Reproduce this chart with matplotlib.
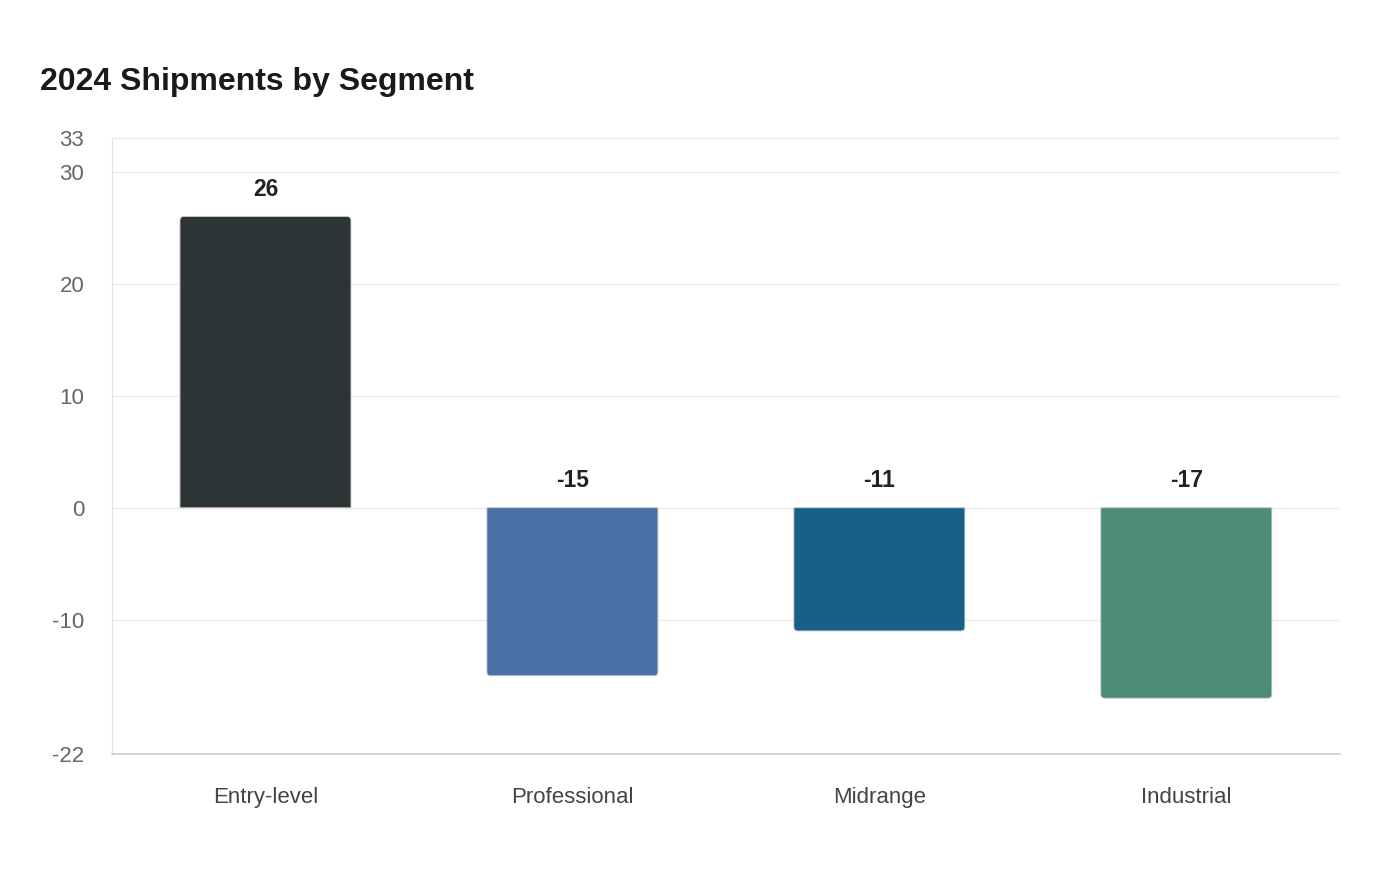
import matplotlib.pyplot as plt
from matplotlib.path import Path
from matplotlib.patches import PathPatch

plt.rcParams['font.family'] = ['Liberation Sans', 'DejaVu Sans']

# chart data
segments = ["Entry-level", "Professional", "Midrange", "Industrial"]
shipments = [26, -15, -11, -17]
bar_colors = ["#2d3436", "#4a6fa5", "#176087", "#4e8c7a"]
y_ticks = [-22, -10, 0, 10, 20, 30, 33]


def bar_path(xc, v, width, rx, ry):
    # bar from 0 to v, rounded only at the far end
    x0, x1 = xc - width / 2, xc + width / 2
    s = 1 if v >= 0 else -1
    verts = [(x0, 0), (x0, v - s * ry), (x0, v), (x0 + rx, v),
             (x1 - rx, v), (x1, v), (x1, v - s * ry), (x1, 0), (x0, 0)]
    codes = [Path.MOVETO, Path.LINETO, Path.CURVE3, Path.CURVE3,
             Path.LINETO, Path.CURVE3, Path.CURVE3, Path.LINETO, Path.CLOSEPOLY]
    return Path(verts, codes)


fig = plt.figure(figsize=(14, 8.8), dpi=100)
ax = fig.add_axes([0.08, 0.143, 0.877, 0.7])

ax.set_xlim(-0.5, len(segments) - 0.5)
ax.set_ylim(-22, 33)

width = 0.557
# corner radius ~4 px converted to data units on each axis
rx = 4 / 307.0
ry = 4 / 11.2
for i, (v, c) in enumerate(zip(shipments, bar_colors)):
    patch = PathPatch(bar_path(i, v, width, rx, ry), facecolor=c,
                      edgecolor="#c8c8c8", linewidth=0.6, zorder=3)
    ax.add_patch(patch)
    ax.annotate(f"{v}", xy=(i, max(v, 0)), xytext=(0, 15), textcoords="offset points",
                ha="center", va="baseline", fontsize=16.5, fontweight="bold",
                color="#222222", zorder=4)

ax.set_xticks(range(len(segments)))
ax.set_xticklabels(segments, fontsize=16, color="#444444")
ax.set_yticks(y_ticks)
ax.set_yticklabels([str(t) for t in y_ticks], fontsize=16, color="#666666")
ax.tick_params(axis="both", length=0)
ax.tick_params(axis="x", pad=23.5)
ax.tick_params(axis="y", pad=20)

ax.grid(axis="y", color="#ebebeb", linewidth=1, zorder=0)
ax.set_axisbelow(True)
for s in ["top", "right"]:
    ax.spines[s].set_visible(False)
ax.spines["left"].set_color("#e0e0e0")
ax.spines["bottom"].set_color("#cccccc")
ax.spines["bottom"].set_linewidth(1.2)

fig.text(40 / 1400, 1 - 82 / 880, "2024 Shipments by Segment", fontsize=23,
         fontweight="bold", color="#1a1a1a", ha="left", va="center")

fig.savefig("out.png", dpi=100, facecolor="white")
